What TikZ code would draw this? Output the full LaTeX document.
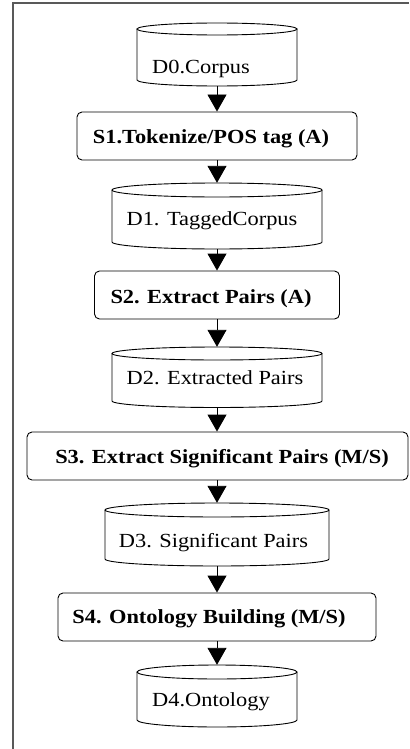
\documentclass[tikz,border=0pt]{standalone}
\usepackage{fontspec}
\setmainfont{Liberation Serif}[FakeStretch=1.12]
\usetikzlibrary{arrows.meta,fit}
\newcommand{\dbcyl}[6]{%
  \draw[dbline] ({(#2+#3)/2},{#4+#5}) ellipse [x radius={(#3-#2)/2}, y radius=#5];
  \draw[dbline] (#2,{#4+#5}) -- (#2,#6) arc[start angle=180, end angle=0, x radius={(#3-#2)/2}, y radius=#5] -- (#3,{#4+#5});
  \node[fit={(#2,#4) (#3,{#6+#5})}, inner sep=0] (#1) {};
}
\begin{document}
\begin{tikzpicture}[x=1bp,y=-1bp,
  lbl/.style={inner sep=0, font=\fontsize{20bp}{24bp}\selectfont},
  blbl/.style={inner sep=0, font=\fontsize{20bp}{24bp}\selectfont\bfseries},
  stepbox/.style={draw, rounded corners=5bp, line width=0.9bp, inner sep=0, minimum height=48bp},
  dbline/.style={line width=0.9bp},
  flow/.style={line width=0.9bp, -{Triangle[width=19bp,length=17bp]}},
  frameline/.style={draw=black!65, line width=1.3bp}]
\useasboundingbox (0,0) rectangle (409,749);
% frame
\coordinate (fa) at (13,749);
\coordinate (fb) at (13,3);
\coordinate (fc) at (409,3);
\draw[frameline] (fa) -- (fb) -- (fc);
% data stores
\dbcyl{d0}{137}{297}{23}{6}{80}
\dbcyl{d1}{112}{322}{183}{7}{242}
\dbcyl{d2}{112}{322}{347}{6.5}{401}
\dbcyl{d3}{105}{329}{503}{7}{559}
\dbcyl{d4}{137}{297}{665}{7}{720}
% steps
\node[stepbox, minimum width=280bp] (s1) at (217,136) {};
\node[stepbox, minimum width=245bp] (s2) at (217,295) {};
\node[stepbox, minimum width=381bp] (s3) at (217.5,456) {};
\node[stepbox, minimum width=318bp] (s4) at (217,617) {};
% texts
\node[lbl, anchor=base west] (t0) at (152,74) {D0.Corpus};
\node[blbl, anchor=base] (t1) at (211,143) {S1.Tokenize/POS tag (A)};
\node[lbl, anchor=base] (t2) at (212,225) {D1. TaggedCorpus};
\node[blbl, anchor=base] (t3) at (211,303) {S2. Extract Pairs (A)};
\node[lbl, anchor=base] (t4) at (215,384) {D2. Extracted Pairs};
\node[blbl, anchor=base] (t5) at (222,463) {S3. Extract Significant Pairs (M/S)};
\node[lbl, anchor=base] (t6) at (213.5,547) {D3. Significant Pairs};
\node[blbl, anchor=base] (t7) at (209,623) {S4. Ontology Building (M/S)};
\node[lbl, anchor=base west] (t8) at (152,706) {D4.Ontology};
% flow
\draw[flow] (d0.south) -- (d0.south |- s1.north);
\draw[flow] (s1.south) -- (s1.south |- d1.north);
\draw[flow] (d1.south) -- (d1.south |- s2.north);
\draw[flow] (s2.south) -- (s2.south |- d2.north);
\draw[flow] (d2.south) -- (d2.south |- s3.north);
\draw[flow] (d2.south |- s3.south) -- (d2.south |- d3.north);
\draw[flow] (d3.south) -- (d3.south |- s4.north);
\draw[flow] (s4.south) -- (s4.south |- d4.north);
\end{tikzpicture}
\end{document}
